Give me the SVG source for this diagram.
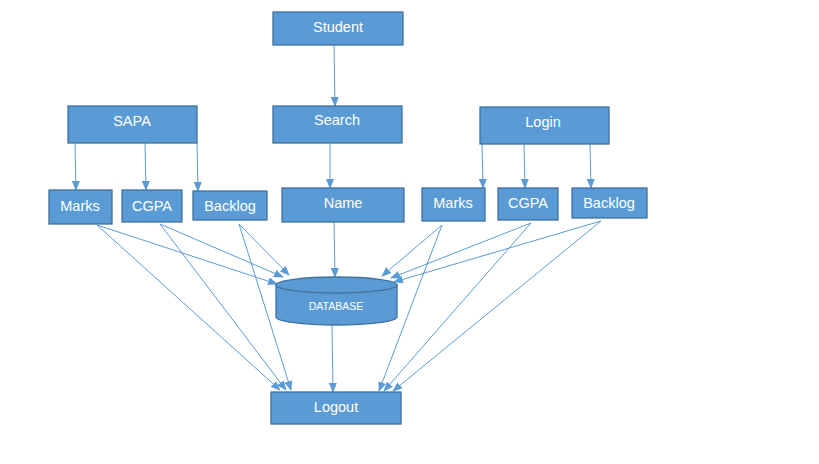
<svg xmlns="http://www.w3.org/2000/svg" width="819" height="464" viewBox="0 0 819 464">
<style>
.box{fill:#5B9BD5;stroke:#41719C;stroke-width:1.3}
.t{fill:#fff;font-family:"Liberation Sans",Arial,sans-serif;font-size:14.5px;text-anchor:middle}
.c{stroke:#5B9BD5;stroke-width:1;fill:none;marker-end:url(#a)}
</style>
<defs>
<marker id="a" markerWidth="10" markerHeight="8" refX="9" refY="4" orient="auto" markerUnits="userSpaceOnUse">
<path d="M0,0 L10,4 L0,8 Z" fill="#5B9BD5"/>
</marker>
</defs>
<rect width="819" height="464" fill="#fff"/>
<g id="connectors">
<line class="c" x1="334" y1="45" x2="335" y2="106"/>
<line class="c" x1="330" y1="143" x2="330" y2="188"/>
<line class="c" x1="75" y1="143" x2="76" y2="190"/>
<line class="c" x1="145" y1="143" x2="146" y2="190"/>
<line class="c" x1="197" y1="143" x2="198" y2="191"/>
<line class="c" x1="482" y1="144" x2="483" y2="188"/>
<line class="c" x1="524" y1="144" x2="525" y2="188"/>
<line class="c" x1="590" y1="144" x2="591" y2="188"/>
<line class="c" x1="334" y1="222" x2="335" y2="277"/>
<line class="c" x1="332" y1="325" x2="333" y2="392"/>
<line class="c" x1="97" y1="225" x2="277" y2="284"/>
<line class="c" x1="97" y1="225" x2="280" y2="390"/>
<line class="c" x1="160" y1="224" x2="283" y2="277"/>
<line class="c" x1="160" y1="224" x2="286" y2="390"/>
<line class="c" x1="239" y1="224" x2="289" y2="275"/>
<line class="c" x1="239" y1="224" x2="291" y2="390"/>
<line class="c" x1="442" y1="225" x2="382" y2="276"/>
<line class="c" x1="442" y1="225" x2="379" y2="391"/>
<line class="c" x1="531" y1="223" x2="391" y2="278"/>
<line class="c" x1="531" y1="223" x2="384" y2="391"/>
<line class="c" x1="601" y1="221" x2="394" y2="282"/>
<line class="c" x1="601" y1="221" x2="393" y2="391"/>
</g>
<g id="student"><rect class="box" x="273" y="12" width="130" height="33"/><text class="t" x="338" y="32">Student</text></g>
<g id="search"><rect class="box" x="273" y="106" width="129" height="37"/><text class="t" x="337" y="125">Search</text></g>
<g id="sapa"><rect class="box" x="68" y="106" width="129" height="37"/><text class="t" x="132" y="126">SAPA</text></g>
<g id="login"><rect class="box" x="480" y="107" width="129" height="37"/><text class="t" x="543" y="127">Login</text></g>
<g id="marks-l"><rect class="box" x="49" y="190" width="63" height="34"/><text class="t" x="80" y="211">Marks</text></g>
<g id="cgpa-l"><rect class="box" x="122" y="190" width="60" height="32"/><text class="t" x="152" y="211">CGPA</text></g>
<g id="backlog-l"><rect class="box" x="193" y="191" width="74" height="29"/><text class="t" x="230" y="211">Backlog</text></g>
<g id="name"><rect class="box" x="282" y="188" width="122" height="34"/><text class="t" x="343" y="208">Name</text></g>
<g id="marks-r"><rect class="box" x="422" y="188" width="63" height="33"/><text class="t" x="453" y="208">Marks</text></g>
<g id="cgpa-r"><rect class="box" x="498" y="188" width="60" height="32"/><text class="t" x="528" y="208">CGPA</text></g>
<g id="backlog-r"><rect class="box" x="572" y="188" width="75" height="30"/><text class="t" x="609" y="208">Backlog</text></g>
<g id="database">
<path class="box" d="M276,285 L276,317 A60.5,8 0 0 0 397,317 L397,285 Z"/>
<ellipse class="box" cx="336.5" cy="285" rx="60.5" ry="8"/>
<text class="t" x="336" y="310" style="font-size:10.5px">DATABASE</text>
</g>
<g id="logout"><rect class="box" x="271" y="392" width="130" height="32"/><text class="t" x="336" y="412">Logout</text></g>
</svg>
